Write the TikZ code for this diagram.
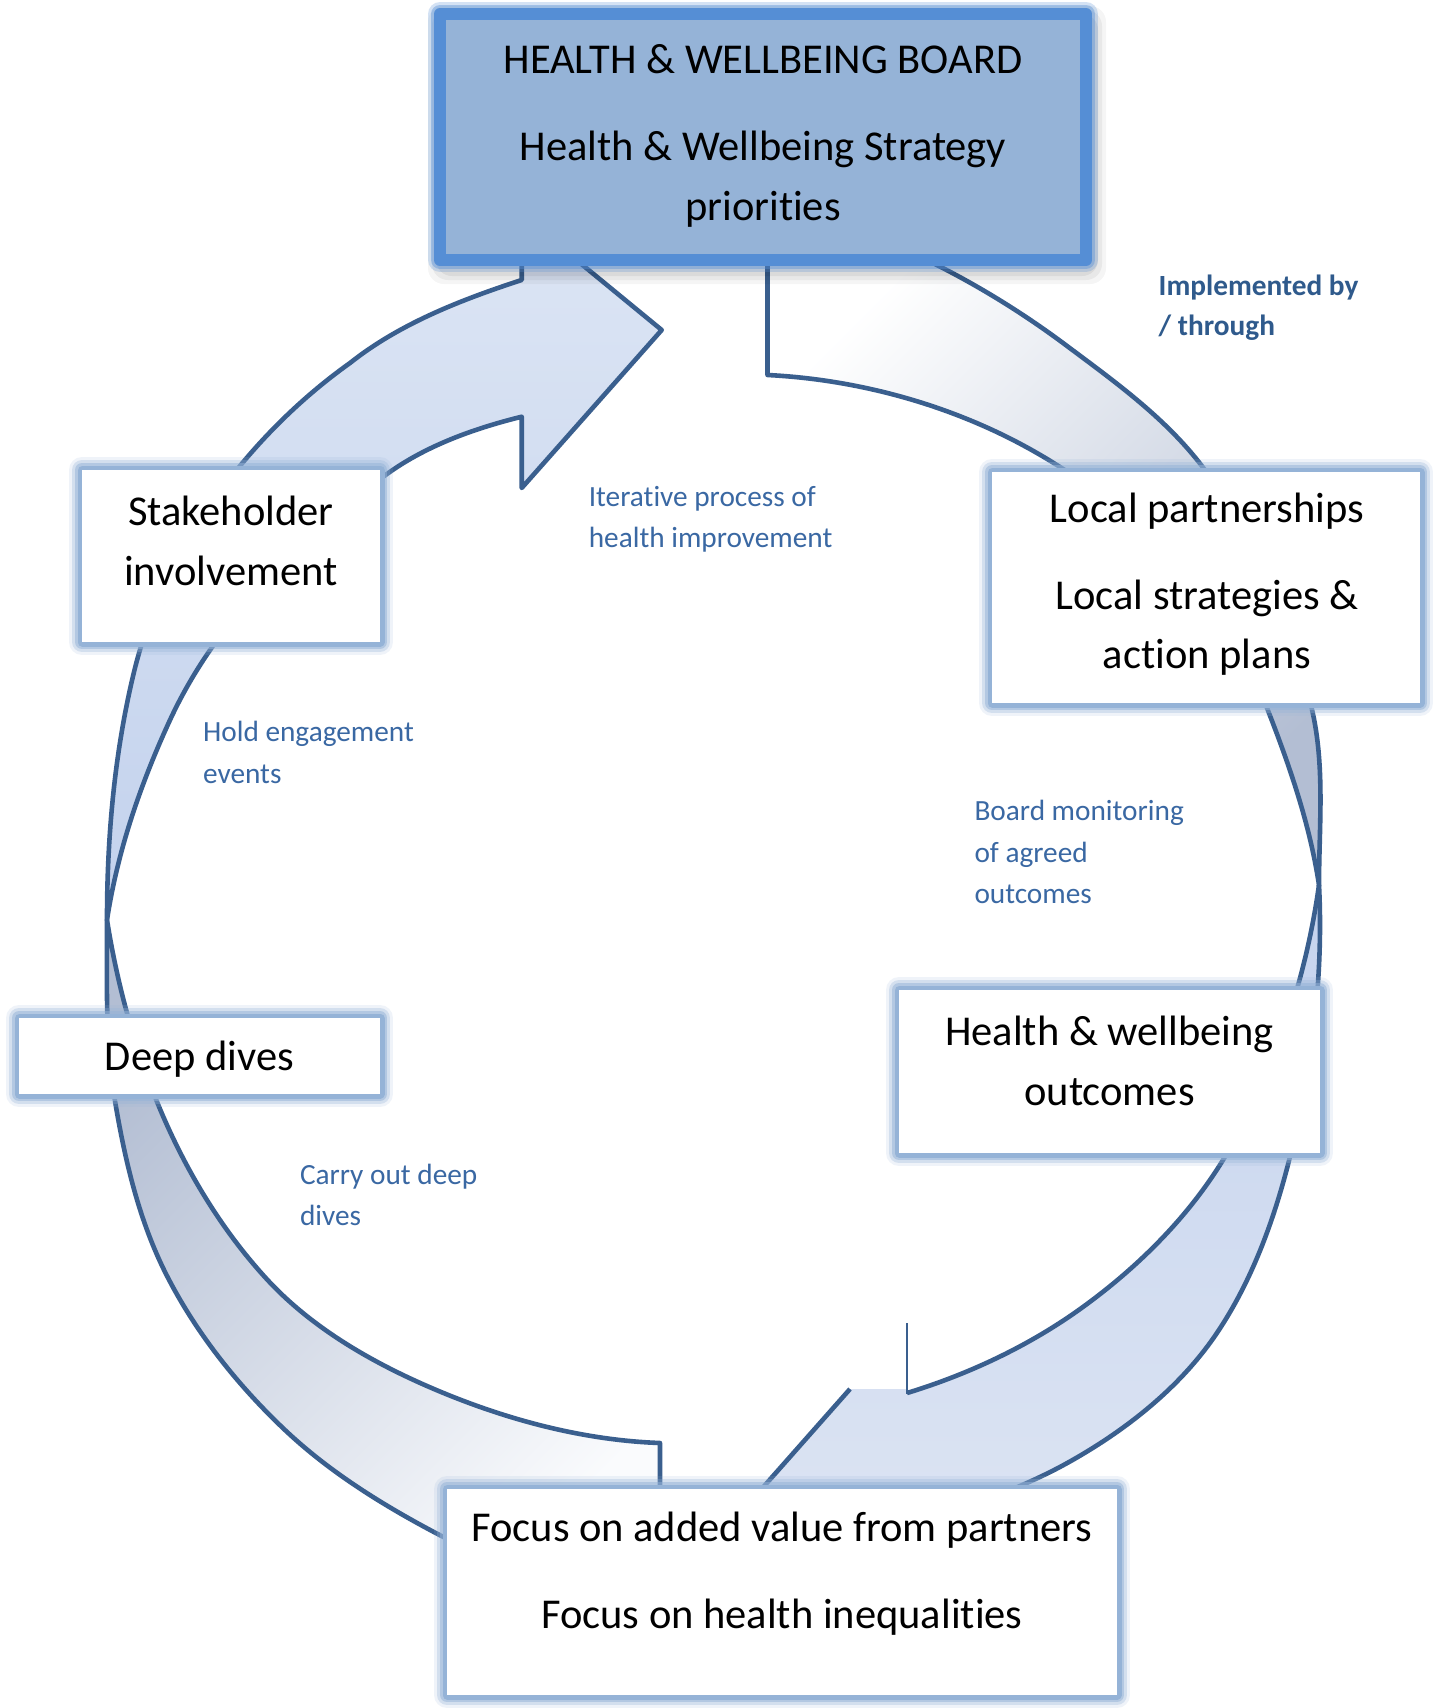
\documentclass[tikz,border=0pt]{standalone}
\usepackage{fontspec}
\setmainfont[Ligatures={NoCommon}]{Carlito}
\definecolor{outl}{HTML}{3A5F8E}
\definecolor{glowc}{HTML}{95B3D7}
\definecolor{topfill}{HTML}{95B3D7}
\definecolor{topbord}{HTML}{558ED5}
\definecolor{lblue}{HTML}{3A68A3}
\definecolor{lbold}{HTML}{2F5A8C}
\definecolor{bluetop}{HTML}{DCE5F4}
\definecolor{bluebot}{HTML}{C3D2ED}
\definecolor{bluetwotop}{HTML}{C5D3EE}
\definecolor{bluetwobot}{HTML}{DCE4F3}
\definecolor{grayc}{HTML}{B3BED3}
\definecolor{lightc}{HTML}{FAFBFD}
\begin{document}
\begin{tikzpicture}[x=0.5pt,y=-0.5pt,
  arrowline/.style={draw=outl,line width=2.3pt,line join=round},
  wbox/.style={rectangle,inner sep=0pt,outer sep=0pt,fill=white,
    preaction={draw=glowc,line width=13pt,opacity=.15,line join=round},
    preaction={draw=glowc,line width=10pt,opacity=.3,line join=round},
    preaction={draw=glowc,line width=7pt,opacity=.5,line join=round},
    preaction={draw=glowc,line width=4.5pt,line join=round}},
  btext/.style={inner sep=0pt,font=\fontsize{21.25}{25}\selectfont,anchor=base},
  ltext/.style={inner sep=0pt,font=\fontsize{14.65}{17}\selectfont,text=lblue,anchor=base west},
  lbtext/.style={inner sep=0pt,font=\fontsize{14.65}{17}\selectfont\bfseries,text=lbold,anchor=base west}
]
\fill[white] (0,0) rectangle (1447,1708);
\useasboundingbox (0,0) rectangle (1447,1708);

% ---- Arrow 1: top-right (grey gradient)
\path[arrowline, top color=white, bottom color=grayc, shading angle=45]
  (767.5,225) -- (767.5,375)
  .. controls (851.8,379.2) and (937.6,401.4) .. (1013,440)
  .. controls (1122.6,496.1) and (1222.1,593.4) .. (1267,708)
  .. controls (1289.4,765.3) and (1309.8,824.1) .. (1319,885)
  .. controls (1319,826) and (1325.3,765.7) .. (1311.7,708.3)
  .. controls (1291.8,624.2) and (1256.8,541.4) .. (1206,471.5)
  .. controls (1169,420.5) and (1116.2,382.7) .. (1065.7,345)
  .. controls (1021.8,312.2) and (974.7,283.3) .. (925.4,259.3)
  .. controls (876.9,235.7) and (821.2,229.7) .. (767.5,225) -- cycle;

% ---- Arrow 2: right-bottom (blue)
\path[shade, top color=bluetwotop, bottom color=bluetwobot]
  (1319,885) .. controls (1323.6,976) and (1312,1068.3) .. (1290,1156.7)
  .. controls (1274.6,1218.5) and (1252.3,1280.5) .. (1216.7,1333.3)
  .. controls (1179.7,1388.2) and (1124.6,1431.2) .. (1066.7,1463.3)
  .. controls (1029.7,1483.8) and (989.8,1498.5) .. (950,1513)
  -- (720,1536) -- (768,1482) -- (850,1389) -- (907,1389) -- (907,1393)
  .. controls (969.5,1373.9) and (1030.4,1345.2) .. (1083.3,1306.7)
  .. controls (1139,1266.2) and (1189.6,1215.7) .. (1225,1156.7)
  .. controls (1274.3,1074.6) and (1305.7,979.8) .. (1319,885) -- cycle;
\draw[arrowline] (1319,885) .. controls (1323.6,976) and (1312,1068.3) .. (1290,1156.7)
  .. controls (1274.6,1218.5) and (1252.3,1280.5) .. (1216.7,1333.3)
  .. controls (1179.7,1388.2) and (1124.6,1431.2) .. (1066.7,1463.3)
  .. controls (1029.7,1483.8) and (989.8,1498.5) .. (950,1513);
\draw[arrowline] (907,1393)
  .. controls (969.5,1373.9) and (1030.4,1345.2) .. (1083.3,1306.7)
  .. controls (1139,1266.2) and (1189.6,1215.7) .. (1225,1156.7)
  .. controls (1274.3,1074.6) and (1305.7,979.8) .. (1319,885);
\draw[arrowline] (850,1389) -- (720,1536);
\draw[outl, line width=0.8pt] (907,1323) -- (907,1394);

% ---- Arrow 3: bottom-left (grey gradient)
\path[arrowline, top color=grayc, bottom color=lightc, shading angle=45]
  (107,920) .. controls (107,980.4) and (105,1041.4) .. (115,1101)
  .. controls (125,1160.8) and (139.2,1221.3) .. (166.7,1275.3)
  .. controls (195.8,1332.4) and (236.9,1384.2) .. (283.3,1428.4)
  .. controls (327.2,1470.3) and (379.7,1503.2) .. (433.3,1531.7)
  .. controls (503,1568.7) and (582.3,1586.3) .. (660,1600)
  -- (660,1443)
  .. controls (581.2,1440.2) and (502.4,1418.6) .. (430,1387.3)
  .. controls (370.1,1361.4) and (310.9,1327.1) .. (266.7,1279)
  .. controls (219.5,1227.7) and (182.9,1165.6) .. (156.7,1101)
  .. controls (133.2,1043) and (116.8,981.8) .. (107,920) -- cycle;

% ---- Arrow 4: top-left (blue)
\path[arrowline, top color=bluetop, bottom color=bluebot]
  (107,920) .. controls (107,836.8) and (114.4,752.9) .. (134,672)
  .. controls (163.5,549.8) and (247.6,435.9) .. (350,363)
  .. controls (399.6,323.6) and (461.3,299.7) .. (521.7,280)
  -- (521.7,215) -- (661.7,330) -- (521.7,488) -- (521.7,416.7)
  .. controls (472.9,428.8) and (423.5,446.5) .. (383.3,476.7)
  .. controls (297,541.4) and (215.2,622) .. (170,720)
  .. controls (140.7,783.5) and (117.5,850.8) .. (107,920) -- cycle;

% ---- Top box shadow
\foreach \dd/\op in {16/.04,12/.05,8/.06}{
  \fill[black,opacity=\op,rounded corners=8pt] (440-\dd+4,14-\dd+8) rectangle (1086+\dd+4,260+\dd+8);
}
% ---- Boxes
\node[rectangle,inner sep=0pt,outer sep=0pt,minimum width=323pt,minimum height=123pt,
  fill=topfill,draw=topbord,line width=6pt,line join=round,
  preaction={draw=topbord,line width=12pt,opacity=.25,line join=round},
  preaction={draw=topbord,line width=9pt,opacity=.4,line join=round}] (board) at (763,137) {};
\node[wbox,minimum width=149pt,minimum height=86pt] (stake) at (231,556) {};
\node[wbox,minimum width=214pt,minimum height=115.5pt] (local) at (1206,587.5) {};
\node[wbox,minimum width=180.5pt,minimum height=38pt] (deep) at (199.5,1056) {};
\node[wbox,minimum width=210.5pt,minimum height=81.5pt] (outc) at (1109.5,1071.5) {};
\node[wbox,minimum width=335pt,minimum height=103pt] (focus) at (782,1592) {};

% ---- Box texts
\node[btext] (b1) at (763,73.5) {HEALTH \& WELLBEING BOARD};
\node[btext] (b2) at (763,160.7) {Health \& Wellbeing Strategy};
\node[btext] (b3) at (763,220.6) {priorities};
\node[btext] (s1) at (231,525.7) {Stakeholder};
\node[btext] (s2) at (231,585.7) {involvement};
\node[btext] (l1) at (1207,522.5) {Local partnerships};
\node[btext] (l2) at (1207,609.6) {Local strategies \&};
\node[btext] (l3) at (1207,668.5) {action plans};
\node[btext] (d1) at (199.5,1070.5) {Deep dives};
\node[btext] (o1) at (1109.5,1045.5) {Health \& wellbeing};
\node[btext] (o2) at (1109.5,1105.4) {outcomes};
\node[btext] (f1) at (782,1541.2) {Focus on added value from partners};
\node[btext] (f2) at (782,1628.4) {Focus on health inequalities};

% ---- Labels
\node[lbtext] (im1) at (1158.3,295) {Implemented by};
\node[lbtext] (im2) at (1158.3,335.3) {/ through};
\node[ltext] (it1) at (588.4,506.3) {Iterative process of};
\node[ltext] (it2) at (588.4,547.7) {health improvement};
\node[ltext] (ho1) at (202.7,741.7) {Hold engagement};
\node[ltext] (ho2) at (202.7,783) {events};
\node[ltext] (bm1) at (974.1,820.2) {Board monitoring};
\node[ltext] (bm2) at (974.1,862.6) {of agreed};
\node[ltext] (bm3) at (974.1,903) {outcomes};
\node[ltext] (ca1) at (299.6,1184.1) {Carry out deep};
\node[ltext] (ca2) at (299.6,1225.5) {dives};
\end{tikzpicture}
\end{document}
